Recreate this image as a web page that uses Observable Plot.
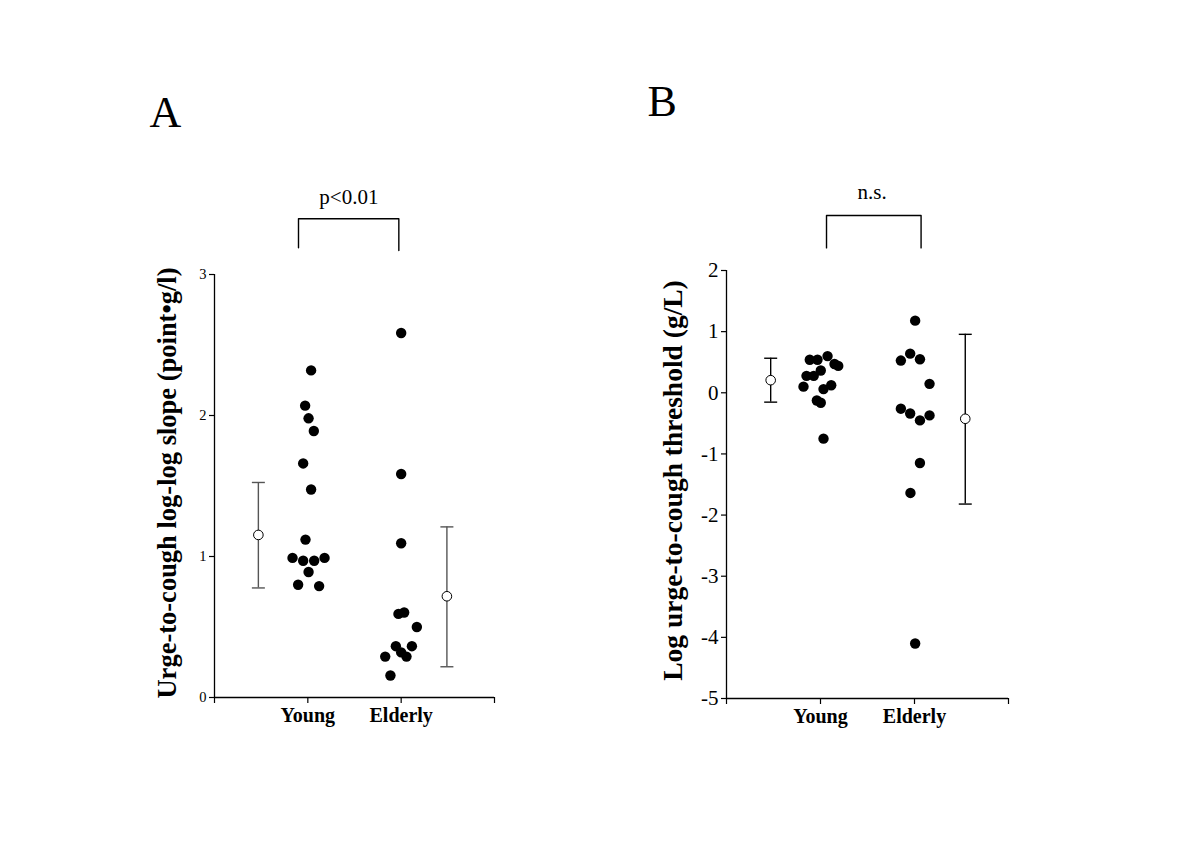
<!DOCTYPE html>
<html>
<head>
<meta charset="utf-8">
<script src="https://cdn.jsdelivr.net/npm/d3@7"></script>
<script src="https://cdn.jsdelivr.net/npm/@observablehq/plot@0.6"></script>
<style>
  html, body { margin: 0; padding: 0; background: #fff; }
  #wrap { position: relative; width: 1200px; height: 849px; background: #fff; }
  #wrap > svg { position: absolute; top: 0; }
</style>
</head>
<body>
<div id="wrap"></div>
<script>
// ---------- data ----------
const groups = ["Young", "Elderly"];           // x positions 1 and 2
const xTickLabels = ["", "Young", "Elderly", ""];

// Panel A: urge-to-cough log-log slope
const slopeYoung  = [2.32, 2.07, 1.98, 1.89, 1.66, 1.475, 1.12, 0.99, 0.97, 0.97, 0.99, 0.89, 0.80, 0.79];
const slopeYoungJitter = [0.035, -0.029, 0.008, 0.064, -0.050, 0.035, -0.025, -0.164, -0.050, 0.068, 0.179, 0.008, -0.104, 0.121];
const slopeElderly = [2.585, 1.585, 1.094, 0.593, 0.603, 0.50, 0.364, 0.364, 0.32, 0.29, 0.29, 0.156];
const slopeElderlyJitter = [0, 0, 0, -0.029, 0.032, 0.168, -0.057, 0.115, 0, 0.057, -0.171, -0.115];
const slopeSummaryX = [0.47, 2.49];
const slopeMean = [1.153, 0.718];
const slopeHi = [1.525, 1.21];
const slopeLo = [0.777, 0.218];
const slopeTicks = [0, 1, 2, 3];
const slopeLabel = "Urge-to-cough log-log slope (point\u2022g/l)";
const bracketA = {x: [0.90, 0.90, 1.975, 1.975], y: [3.19, 3.395, 3.395, 3.17]};
const bracketATextPos = {x: 1.44, y: 3.50};
const bracketAText = "p<0.01";

// Panel B: log urge-to-cough threshold
const thrYoung = [0.54, 0.54, 0.60, 0.47, 0.44, 0.364, 0.277, 0.277, 0.10, 0.124, 0.06, -0.126, -0.163, -0.75];
const thrYoungJitter = [-0.114, -0.032, 0.075, 0.149, 0.189, 0.003, -0.149, -0.072, -0.181, 0.114, 0.032, -0.039, 0.003, 0.032];
const thrElderly = [1.18, 0.527, 0.64, 0.548, 0.146, -0.26, -0.338, -0.37, -0.452, -1.148, -1.638, -4.10];
const thrElderlyJitter = [0.007, -0.145, -0.046, 0.058, 0.160, -0.145, -0.046, 0.160, 0.058, 0.058, -0.043, 0.007];
const thrSummaryX = [0.47, 2.54];
const thrMean = [0.206, -0.425];
const thrHi = [0.565, 0.956];
const thrLo = [-0.153, -1.82];
const thrTicks = [-5, -4, -3, -2, -1, 0, 1, 2];
const thrLabel = "Log urge-to-cough threshold (g/L)";
const bracketB = {x: [1.064, 1.064, 2.07, 2.07], y: [2.37, 2.90, 2.90, 2.37]};
const bracketBTextPos = {x: 1.55, y: 3.17};
const bracketBText = "n.s.";

// ---------- helpers ----------
const FONT = "'Liberation Serif', 'Times New Roman', serif";
const capSymbol = {
  draw(ctx, size) {
    const w = Math.sqrt(size / Math.PI);
    ctx.moveTo(-w, 0);
    ctx.lineTo(w, 0);
  }
};

function points(young, youngJ, elderly, elderlyJ) {
  return [
    ...young.map((v, i) => ({x: 1 + youngJ[i], y: v})),
    ...elderly.map((v, i) => ({x: 2 + elderlyJ[i], y: v}))
  ];
}
function summary(xs, mean, lo, hi) {
  return xs.map((x, i) => ({x, mean: mean[i], lo: lo[i], hi: hi[i]}));
}

function panel(cfg) {
  const pts = points(cfg.young, cfg.youngJ, cfg.elderly, cfg.elderlyJ);
  const sum = summary(cfg.sx, cfg.mean, cfg.lo, cfg.hi);
  const br = cfg.bracket.x.map((x, i) => ({x, y: cfg.bracket.y[i]}));
  const yMin = d3.min(cfg.ticks), yMax = d3.max(cfg.ticks);
  return Plot.plot({
    width: 600,
    height: 849,
    marginLeft: cfg.ml, marginRight: cfg.mr, marginTop: cfg.mt, marginBottom: cfg.mb,
    style: {fontFamily: FONT, background: "transparent", color: "#000", overflow: "visible"},
    x: {domain: [0, 3]},
    y: {domain: [yMin, yMax]},
    marks: [
      Plot.ruleX([0], {y1: yMin, y2: yMax, stroke: "#000", strokeWidth: 1.3}),
      Plot.ruleY([yMin], {x1: 0, x2: 3, stroke: "#000", strokeWidth: 1.3}),
      Plot.axisY({ticks: cfg.ticks, tickSize: 5, tickPadding: 3, fontSize: cfg.tickFont,
                  tickFormat: d => String(d), label: null, strokeWidth: 1.2}),
      Plot.axisX({ticks: [0, 1, 2, 3], tickSize: 6, tickPadding: 4, fontSize: 20, fontWeight: "bold",
                  tickFormat: d => xTickLabels[d], label: null, strokeWidth: 1.2}),
      Plot.text([cfg.ylabel], {frameAnchor: "left", rotate: -90, dx: cfg.ylabelDx, dy: cfg.ylabelDy,
                  textAnchor: "middle", lineAnchor: "middle",
                  fontSize: cfg.ylabelFont, fontWeight: "bold", fill: "#000"}),
      Plot.text([cfg.letter], {frameAnchor: "top-left", dx: cfg.letterDx, dy: cfg.letterDy,
                  textAnchor: "start", lineAnchor: "bottom", fontSize: 44, fill: "#000"}),
      Plot.line(br, {x: "x", y: "y", stroke: "#000", strokeWidth: 1.4}),
      Plot.text([cfg.btext], {x: cfg.btextPos.x, y: cfg.btextPos.y, lineAnchor: "bottom",
                  fontSize: 21, fill: "#000"}),
      Plot.ruleX(sum, {x: "x", y1: "lo", y2: "hi", stroke: cfg.errColor, strokeWidth: 1.4}),
      Plot.dot(sum, {x: "x", y: "hi", symbol: capSymbol, r: 6.5, stroke: cfg.errColor, strokeWidth: 1.4}),
      Plot.dot(sum, {x: "x", y: "lo", symbol: capSymbol, r: 6.5, stroke: cfg.errColor, strokeWidth: 1.4}),
      Plot.dot(sum, {x: "x", y: "mean", r: 4.8, fill: "#fff", stroke: "#000", strokeWidth: 1}),
      Plot.dot(pts, {x: "x", y: "y", r: 5.2, fill: "#000", stroke: "none"})
    ]
  });
}

const wrap = document.getElementById("wrap");

const svgA = panel({
  young: slopeYoung, youngJ: slopeYoungJitter, elderly: slopeElderly, elderlyJ: slopeElderlyJitter,
  sx: slopeSummaryX, mean: slopeMean, lo: slopeLo, hi: slopeHi,
  ticks: slopeTicks, tickFont: 14.5, ylabel: slopeLabel, ylabelFont: 26.5,
  ml: 214, mr: 106, mt: 274, mb: 152,
  ylabelDx: -47, ylabelDy: -3,
  letter: "A", letterDx: -65, letterDy: -148,
  bracket: bracketA, btext: bracketAText, btextPos: bracketATextPos,
  errColor: "#555"
});
svgA.style.left = "0px";
wrap.appendChild(svgA);

const svgB = panel({
  young: thrYoung, youngJ: thrYoungJitter, elderly: thrElderly, elderlyJ: thrElderlyJitter,
  sx: thrSummaryX, mean: thrMean, lo: thrLo, hi: thrHi,
  ticks: thrTicks, tickFont: 21, ylabel: thrLabel, ylabelFont: 27.5,
  ml: 126, mr: 192, mt: 270, mb: 151,
  ylabelDx: -53, ylabelDy: -4,
  letter: "B", letterDx: -79, letterDy: -155,
  bracket: bracketB, btext: bracketBText, btextPos: bracketBTextPos,
  errColor: "#000"
});
svgB.style.left = "600px";
wrap.appendChild(svgB);
</script>
</body>
</html>
